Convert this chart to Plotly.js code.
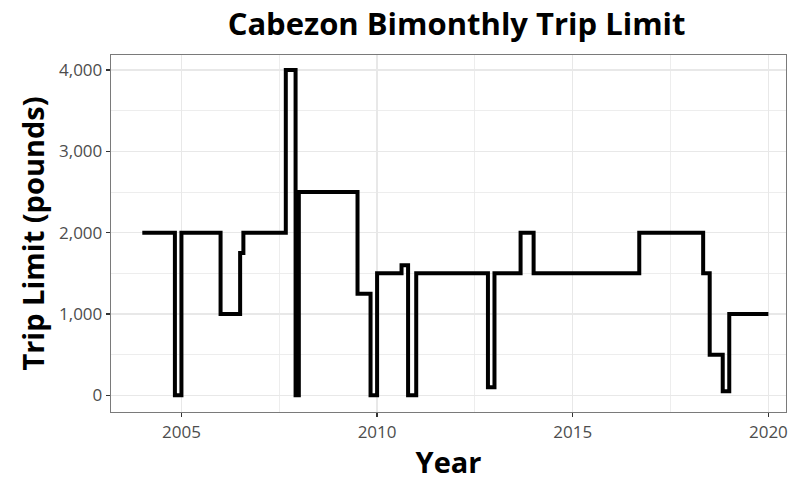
<!DOCTYPE html>
<html>
<head>
<meta charset="utf-8">
<script src="https://cdn.plot.ly/plotly-3.0.1.min.js"></script>
<style>html,body{margin:0;padding:0;background:#fff}#chart{width:799px;height:481px}</style>
</head>
<body>
<div id="chart"></div>
<script>
// Start of each trip-limit period (decimal year) and the limit in pounds
const periodStart = [2004.0, 2004.833, 2005.0, 2006.0, 2006.5, 2006.583, 2007.667, 2007.917, 2008.0,
  2009.5, 2009.833, 2010.0, 2010.625, 2010.792, 2011.0, 2012.833, 2013.0, 2013.667, 2014.0,
  2016.7, 2018.333, 2018.5, 2018.833, 2019.0, 2020.0];
const tripLimit = [2000, 0, 2000, 1000, 1750, 2000, 4000, 0, 2500,
  1250, 0, 1500, 1600, 0, 1500, 100, 1500, 2000, 1500,
  2000, 1500, 500, 50, 1000, 1000];
const xTicks = [2005, 2010, 2015, 2020];
const yTicks = [0, 1000, 2000, 3000, 4000];

const font = "'Open Sans', 'Noto Sans', sans-serif";
const grid = '#e8e8e8';

const trace = {
  x: periodStart, y: tripLimit, type: 'scatter', mode: 'lines',
  line: {shape: 'hv', color: '#000000', width: 4}, hoverinfo: 'skip'
};

const layout = {
  width: 799, height: 481,
  margin: {l: 111, r: 13, t: 55, b: 69},
  paper_bgcolor: '#ffffff', plot_bgcolor: '#ffffff',
  showlegend: false,
  title: {text: '<b>Cabezon Bimonthly Trip Limit</b>', font: {family: font, size: 31, color: '#000'},
          xref: 'paper', x: 0.512, xanchor: 'center', yref: 'container', y: 0.95, yanchor: 'middle'},
  xaxis: {
    range: [2003.2, 2020.45], tickmode: 'array', tickvals: xTicks, ticktext: xTicks.map(String),
    showgrid: true, gridcolor: grid, gridwidth: 1.4, zeroline: false,
    minor: {tickmode: 'linear', tick0: 2002.5, dtick: 5, showgrid: true, gridcolor: grid, gridwidth: 0.8, ticks: ''},
    showline: true, mirror: true, linecolor: '#7a7a7a', linewidth: 1.3,
    ticks: 'outside', ticklen: 4, tickwidth: 1.3, tickcolor: '#333333',
    tickfont: {family: font, size: 17, color: '#4d4d4d'},
    title: {text: '<b>Year</b>', font: {family: font, size: 29, color: '#000'}, standoff: 11}
  },
  yaxis: {
    range: [-205, 4185], tickmode: 'array', tickvals: yTicks, ticktext: yTicks.map(v => v.toLocaleString('en-US')),
    showgrid: true, gridcolor: grid, gridwidth: 1.4, zeroline: false,
    minor: {tickmode: 'linear', tick0: 500, dtick: 1000, showgrid: true, gridcolor: grid, gridwidth: 0.8, ticks: ''},
    showline: true, mirror: true, linecolor: '#7a7a7a', linewidth: 1.3,
    ticks: 'outside', ticklen: 4, tickwidth: 1.3, tickcolor: '#333333',
    tickfont: {family: font, size: 17, color: '#4d4d4d'},
    title: {text: '<b>Trip Limit (pounds)</b>', font: {family: font, size: 29, color: '#000'}, standoff: 6}
  }
};

Plotly.newPlot('chart', [trace], layout, {staticPlot: true, displayModeBar: false});
</script>
</body>
</html>
